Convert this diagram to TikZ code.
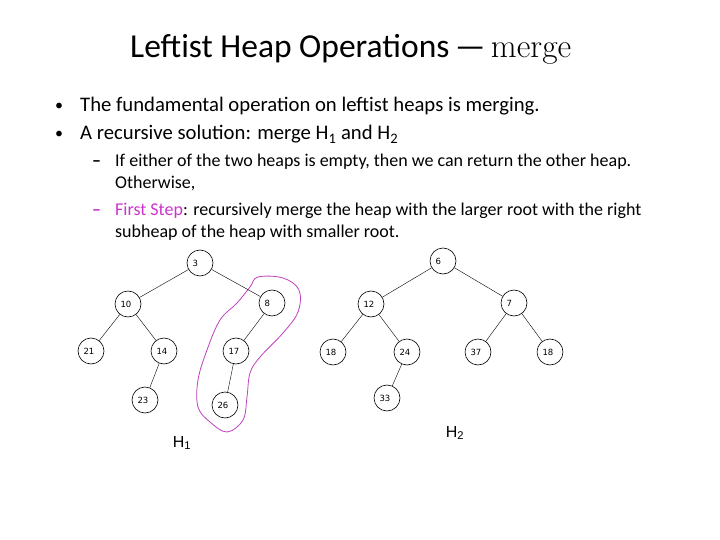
\documentclass[tikz,border=0pt]{standalone}
\usepackage{fontspec}
\newfontfamily\calibri{Carlito}
\newfontfamily\nodefont{DejaVu Sans}
\newfontfamily\heapfont{Liberation Sans}
\usepackage{tikz}
\usetikzlibrary{positioning}

\definecolor{stepmagenta}{RGB}{204,51,204}
\definecolor{blobpurple}{RGB}{192,64,192}

\tikzset{
    tnode/.style={circle, draw, line width=0.6pt, fill=white, minimum size=26pt, inner sep=0pt,
                  text width=15pt, align=left, font=\nodefont\fontsize{8.5}{9}\selectfont},
    bodytext/.style={anchor=base west, inner sep=0pt, font=\calibri\fontsize{20.7}{24}\selectfont},
    subtext/.style={anchor=base west, inner sep=0pt, font=\calibri\fontsize{18}{20}\selectfont},
    bulletmark/.style={anchor=base west, inner sep=0pt, font=\calibri\fontsize{16}{18}\selectfont},
}

\begin{document}
\begin{tikzpicture}[x=1pt, y=-1pt]
    \useasboundingbox (0,0) rectangle (720,540);

    % --- title ---
    \node[anchor=base west, inner sep=0pt] (title) at (130,58)
        {\calibri\fontsize{33.5}{38}\selectfont Leftist Heap Operations\,\textemdash\,\rmfamily merge};

    % --- bullets ---
    \node[bulletmark] (b1) at (55,111) {\textbullet};
    \node[bodytext] (t1) at (80,112) {The fundamental operation on leftist heaps is merging.};
    \node[bulletmark] (b2) at (55,139) {\textbullet};
    \node[bodytext] (t2) at (80,140) {A recursive solution: merge H\textsubscript{1} and H\textsubscript{2}};

    % --- sub bullets ---
    \node[subtext] (d1) at (92,167) {\textbf{\textendash}};
    \node[subtext] (s1) at (115,167) {If either of the two heaps is empty, then we can return the other heap.};
    \node[subtext] (s1b) at (115,189) {Otherwise,};
    \node[subtext, text=stepmagenta] (d2) at (92,215) {\textbf{\textendash}};
    \node[subtext] (s2) at (115,215) {\textcolor{stepmagenta}{First Step}: recursively merge the heap with the larger root with the right};
    \node[subtext] (s2b) at (115,237) {subheap of the heap with smaller root.};

    % --- the marked right path of H1 ---
    \draw[blobpurple, line width=0.8pt] plot[smooth cycle, tension=0.6] coordinates {
        (258,277) (283,278) (299,290) (298,312) (283,333) (260,357) (250,373)
        (247,397) (243,420) (227,432) (210,422) (198,407) (198,380) (207,350)
        (220,320) (237,303) (250,287)};

    % --- heap H1 ---
    \node[tnode] (n3)  at (200,263) {3};
    \node[tnode] (n10) at (128,304) {10};
    \node[tnode] (n8)  at (272,303) {8};
    \node[tnode] (n21) at (91,351)  {21};
    \node[tnode] (n14) at (164,351) {14};
    \node[tnode] (n17) at (236,351) {17};
    \node[tnode] (n23) at (145,400) {23};
    \node[tnode] (n26) at (225,405) {26};
    \draw (n3) -- (n10);
    \draw (n3) -- (n8);
    \draw (n10) -- (n21);
    \draw (n10) -- (n14);
    \draw (n14) -- (n23);
    \draw (n8) -- (n17);
    \draw (n17) -- (n26);
    \node[font=\heapfont\fontsize{16}{18}\selectfont] (h1) at (182,443) {H\textsubscript{1}};

    % --- heap H2 ---
    \node[tnode] (n6)   at (443,261) {6};
    \node[tnode] (n12)  at (371,304) {12};
    \node[tnode] (n7)   at (514,303) {7};
    \node[tnode] (n18a) at (333,352) {18};
    \node[tnode] (n24)  at (407,352) {24};
    \node[tnode] (n37)  at (478,352) {37};
    \node[tnode] (n18b) at (550,352) {18};
    \node[tnode] (n33)  at (387,398) {33};
    \draw (n6) -- (n12);
    \draw (n6) -- (n7);
    \draw (n12) -- (n18a);
    \draw (n12) -- (n24);
    \draw (n24) -- (n33);
    \draw (n7) -- (n37);
    \draw (n7) -- (n18b);
    \node[font=\heapfont\fontsize{16}{18}\selectfont] (h2) at (455,433) {H\textsubscript{2}};
\end{tikzpicture}
\end{document}
